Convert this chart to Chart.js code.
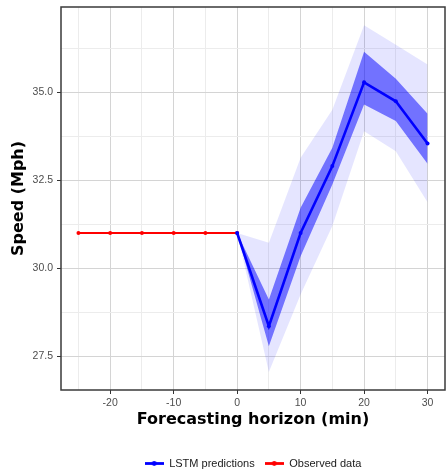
<!DOCTYPE html>
<html>
<head>
<meta charset="utf-8">
<title>Speed forecast</title>
<script src="https://cdn.jsdelivr.net/npm/chart.js@4/dist/chart.umd.min.js"></script>
<style>
  html, body { margin: 0; padding: 0; background: #ffffff; overflow: hidden; }
  canvas { display: block; }
</style>
</head>
<body>
<!-- canvas runs a little past the window so the legend sits low like the original -->
<canvas id="speedChart" width="446" height="479"></canvas>
<script>
// ---------------- data ----------------
// observed speeds before the forecast origin
const pastTime      = [-25, -20, -15, -10, -5, 0];
const observedSpeed = [31.0, 31.0, 31.0, 31.0, 31.0, 31.0];

// LSTM forecast with two uncertainty bands
const horizon    = [0, 5, 10, 15, 20, 25, 30];
const lstmSpeed  = [31.0, 28.35, 31.0, 32.9, 35.28, 34.74, 33.54];
const innerLow   = [31.0, 27.78, 30.34, 32.38, 34.65, 34.18, 32.97];
const innerHigh  = [31.0, 29.11, 31.72, 33.42, 36.15, 35.38, 34.39];
const outerLow   = [31.0, 27.05, 29.25, 31.2, 33.89, 33.32, 31.87];
const outerHigh  = [31.0, 30.72, 33.14, 34.5, 36.9, 36.35, 35.79];

// axis ticks (major get labels, minor only a faint grid line)
const xMajor = [-20, -10, 0, 10, 20, 30];
const xMinor = [-25, -15, -5, 5, 15, 25];
const yMajor = [27.5, 30.0, 32.5, 35.0];
const yMinor = [28.75, 31.25, 33.75, 36.25];

const toXY = (xs, ys) => xs.map((x, i) => ({ x: x, y: ys[i] }));

Chart.defaults.font.family = "'Liberation Sans', Arial, sans-serif";
Chart.defaults.color = '#4d4d4d';

// small line+dot swatch for the legend
function swatch(color) {
  const c = document.createElement('canvas');
  c.width = 19; c.height = 7;
  const g = c.getContext('2d');
  g.strokeStyle = color; g.lineWidth = 2.8;
  g.beginPath(); g.moveTo(0, 3.5); g.lineTo(19, 3.5); g.stroke();
  g.fillStyle = color;
  g.beginPath(); g.arc(9.5, 3.5, 2.4, 0, Math.PI * 2); g.fill();
  return c;
}

// panel frame around the plot area
const panelBorder = {
  id: 'panelBorder',
  afterDatasetsDraw(chart) {
    const a = chart.chartArea, ctx = chart.ctx;
    ctx.save();
    ctx.strokeStyle = '#3a3a3a';
    ctx.lineWidth = 1.5;
    ctx.strokeRect(a.left, a.top, a.right - a.left, a.bottom - a.top);
    ctx.restore();
  }
};

function tickSetter(major, minor) {
  return function(scale) {
    scale.ticks = major.concat(minor).sort((a, b) => a - b).map(v => ({ value: v }));
  };
}

const ctx = document.getElementById('speedChart');
const speedChart = new Chart(ctx, {
  type: 'line',
  data: {
    datasets: [
      { label: 'outerLow', data: toXY(horizon, outerLow), borderWidth: 0, borderColor: 'rgba(0,0,0,0)',
        pointRadius: 0, fill: false, order: 10 },
      { label: 'outerHigh', data: toXY(horizon, outerHigh), borderWidth: 0, borderColor: 'rgba(0,0,0,0)',
        pointRadius: 0, fill: '-1', backgroundColor: 'rgba(0,0,255,0.1)', order: 9 },
      { label: 'innerLow', data: toXY(horizon, innerLow), borderWidth: 0, borderColor: 'rgba(0,0,0,0)',
        pointRadius: 0, fill: false, order: 8 },
      { label: 'innerHigh', data: toXY(horizon, innerHigh), borderWidth: 0, borderColor: 'rgba(0,0,0,0)',
        pointRadius: 0, fill: '-1', backgroundColor: 'rgba(0,0,255,0.5)', order: 7 },
      { label: 'LSTM predictions', data: toXY(horizon, lstmSpeed), borderColor: '#0000ff',
        backgroundColor: '#0000ff', borderWidth: 2.6, pointRadius: 2, pointBorderWidth: 0,
        fill: false, order: 0 },
      { label: 'Observed data', data: toXY(pastTime, observedSpeed), borderColor: '#ff0000',
        backgroundColor: '#ff0000', borderWidth: 2.2, pointRadius: 2, pointBorderWidth: 0,
        fill: false, order: 1 }
    ]
  },
  options: {
    responsive: false,
    animation: false,
    layout: { autoPadding: false, padding: { top: 7, right: 1, left: 0, bottom: 0 } },
    elements: { line: { tension: 0 } },
    plugins: {
      tooltip: { enabled: false },
      legend: {
        position: 'bottom',
        fullSize: false,
        labels: {
          usePointStyle: true,
          pointStyleWidth: 19,
          padding: 10,
          color: '#1a1a1a',
          font: { size: 11 },
          generateLabels(chart) {
            return [4, 5].map(i => {
              const ds = chart.data.datasets[i];
              return {
                text: ds.label,
                pointStyle: swatch(ds.borderColor),
                fillStyle: ds.borderColor,
                strokeStyle: ds.borderColor,
                lineWidth: 0,
                datasetIndex: i,
                fontColor: '#1a1a1a'
              };
            });
          }
        }
      }
    },
    scales: {
      x: {
        type: 'linear',
        min: -27.75,
        max: 32.75,
        afterBuildTicks: tickSetter(xMajor, xMinor),
        afterFit: scale => {
          scale.paddingLeft = 0;
          scale.paddingRight = 0;
          scale.height = 58;
        },
        border: { display: false },
        grid: {
          color: c => xMajor.includes(c.tick.value) ? '#d4d4d4' : '#ececec',
          tickColor: c => xMajor.includes(c.tick.value) ? '#333333' : 'rgba(0,0,0,0)',
          tickLength: 4,
          lineWidth: 1
        },
        ticks: {
          autoSkip: false,
          maxRotation: 0,
          padding: 3,
          font: { size: 10.5 },
          callback: v => xMajor.includes(v) ? String(v) : ''
        },
        title: {
          display: true,
          text: 'Forecasting horizon (min)',
          color: '#000000',
          font: { family: "'DejaVu Sans', sans-serif", size: 16, weight: 'bold', lineHeight: 1 },
          padding: { top: 0, bottom: 20 }
        }
      },
      y: {
        type: 'linear',
        min: 26.54,
        max: 37.42,
        afterBuildTicks: tickSetter(yMajor, yMinor),
        afterFit: scale => {
          scale.width = 61;
          scale.paddingTop = 0;
          scale.paddingBottom = 0;
        },
        border: { display: false },
        grid: {
          color: c => yMajor.includes(c.tick.value) ? '#d4d4d4' : '#ececec',
          tickColor: c => yMajor.includes(c.tick.value) ? '#333333' : 'rgba(0,0,0,0)',
          tickLength: 4,
          lineWidth: 1
        },
        ticks: {
          autoSkip: false,
          padding: 4,
          font: { size: 10.5 },
          callback: v => yMajor.includes(v) ? v.toFixed(1) : ''
        },
        title: {
          display: true,
          text: 'Speed (Mph)',
          color: '#000000',
          font: { family: "'DejaVu Sans', sans-serif", size: 16, weight: 'bold' },
          padding: { top: 9, bottom: 0 }
        }
      }
    }
  },
  plugins: [panelBorder]
});
</script>
</body>
</html>
